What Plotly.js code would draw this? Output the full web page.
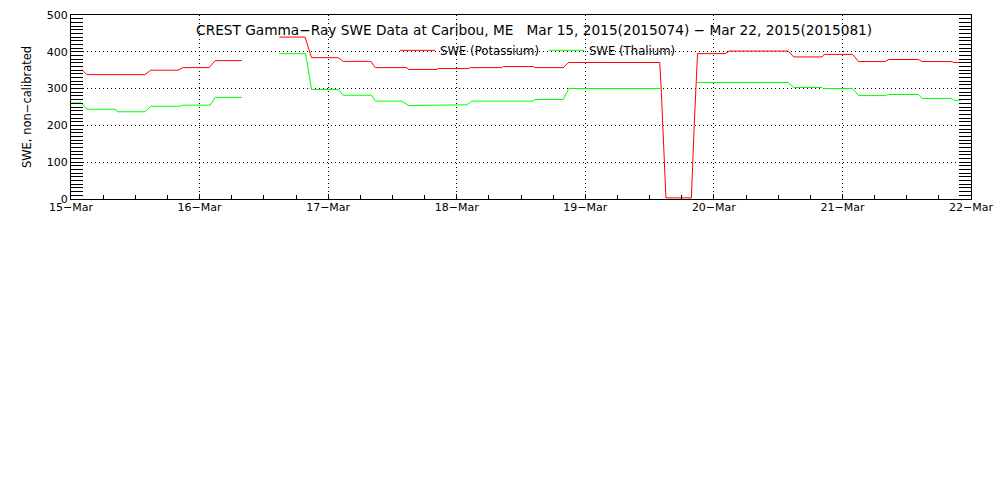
<!DOCTYPE html>
<html>
<head>
<meta charset="utf-8">
<script src="https://cdn.plot.ly/plotly-3.0.1.min.js"></script>
<style>html,body{margin:0;padding:0;background:#fff;}#chart{width:1000px;height:500px;}</style>
</head>
<body>
<div id="chart"></div>
<script>
// Potassium SWE (red) breakpoints
var kTimes = [
  '2015-03-15 02:00','2015-03-15 02:56','2015-03-15 13:48','2015-03-15 14:54','2015-03-15 20:00','2015-03-15 20:54',
  '2015-03-16 01:48','2015-03-16 02:54','2015-03-16 07:54','2015-03-16 11:00',
  '2015-03-16 14:54','2015-03-16 19:42','2015-03-16 20:54','2015-03-17 01:54','2015-03-17 02:48',
  '2015-03-17 07:58','2015-03-17 08:48','2015-03-17 14:42','2015-03-17 15:00','2015-03-17 20:18','2015-03-17 20:30',
  '2015-03-18 02:12','2015-03-18 02:30','2015-03-18 08:24','2015-03-18 08:42','2015-03-18 14:18','2015-03-18 14:36',
  '2015-03-18 19:54','2015-03-18 20:54','2015-03-19 13:54','2015-03-19 14:12','2015-03-19 14:30','2015-03-19 14:48',
  '2015-03-19 15:03','2015-03-19 19:48','2015-03-19 20:01','2015-03-19 20:20','2015-03-19 20:39','2015-03-19 20:57',
  '2015-03-20 02:06','2015-03-20 02:54','2015-03-20 13:54','2015-03-20 14:54','2015-03-20 20:12','2015-03-20 20:36',
  '2015-03-21 01:54','2015-03-21 03:00','2015-03-21 08:00','2015-03-21 08:36','2015-03-21 14:12','2015-03-21 14:51',
  '2015-03-21 20:27','2015-03-21 20:45','2015-03-21 22:08'
];
var kValues = [
  352,338,338,350,350,357,
  357,376,376,null,
  440,440,384,384,374,
  374,357,357,352,352,354.5,
  354.5,357,357,360,360,357,
  357,371,371,290,200,110,
  3,3,100,200,300,395,
  395,402,402,386,386,393,
  393,373.5,373.5,379,379,373.5,
  373.5,371,371
];
// Thalium SWE (green) breakpoints
var tTimes = [
  '2015-03-15 00:00','2015-03-15 02:00','2015-03-15 02:56','2015-03-15 08:12','2015-03-15 08:48','2015-03-15 13:48',
  '2015-03-15 14:54','2015-03-15 20:24','2015-03-15 20:54','2015-03-16 01:58','2015-03-16 02:54','2015-03-16 07:54',
  '2015-03-16 11:00',
  '2015-03-16 14:54','2015-03-16 19:48','2015-03-16 20:54','2015-03-17 01:54','2015-03-17 02:48','2015-03-17 08:09',
  '2015-03-17 08:48','2015-03-17 13:45','2015-03-17 15:00','2015-03-17 20:18','2015-03-17 20:30','2015-03-18 01:54',
  '2015-03-18 02:48','2015-03-18 14:18','2015-03-18 14:36','2015-03-18 19:54','2015-03-18 20:54','2015-03-19 14:00',
  '2015-03-19 17:00',
  '2015-03-19 20:51','2015-03-20 13:54','2015-03-20 14:54','2015-03-20 20:12','2015-03-20 20:24','2015-03-21 01:54',
  '2015-03-21 03:00','2015-03-21 08:00','2015-03-21 08:36','2015-03-21 14:12','2015-03-21 14:51','2015-03-21 20:27',
  '2015-03-21 20:45','2015-03-21 22:08'
];
var tValues = [
  261,261,244,244,237,237,
  252,252,255,255,276,276,
  null,
  395,395,297.5,297.5,282,282,
  266,266,254,254,256,256,
  266,266,270.5,270.5,300,300,
  null,
  316.5,316.5,303,303,300,300,
  281,281,284,284,273,273,
  268.5,268.5
];
var seriesNames = ['SWE (Potassium)', 'SWE (Thalium)'];
var titleText = 'CREST Gamma\u2212Ray SWE Data at Caribou, ME &nbsp; Mar 15, 2015(2015074) \u2212 Mar 22, 2015(2015081)';
var yTitle = 'SWE, non\u2212calibrated';
var xRange = ['2015-03-15 00:00', '2015-03-22 00:00'];
var yRange = [0, 500];

var FONT = 'DejaVu Sans, sans-serif';
var traces = [
  {x: kTimes, y: kValues, name: seriesNames[0], type: 'scatter', mode: 'lines',
   line: {color: '#ff0000', width: 1}, connectgaps: false},
  {x: tTimes, y: tValues, name: seriesNames[1], type: 'scatter', mode: 'lines',
   line: {color: '#00ff00', width: 1}, connectgaps: false}
];
var layout = {
  width: 1000, height: 500,
  paper_bgcolor: '#ffffff', plot_bgcolor: '#ffffff',
  margin: {l: 71, r: 29, t: 15, b: 301, pad: 0},
  font: {family: FONT, size: 11, color: '#000'},
  title: {text: titleText, font: {family: FONT, size: 13.7, color: '#000'},
          xref: 'paper', x: 0.5146, xanchor: 'center', yref: 'container', y: 0.94, yanchor: 'middle'},
  showlegend: true,
  legend: {orientation: 'h', x: 0.360, xanchor: 'left', y: 0.808, yanchor: 'middle',
           bgcolor: 'rgba(0,0,0,0)', borderwidth: 0, font: {family: FONT, size: 11.7, color: '#000'},
           itemwidth: 35, tracegroupgap: 0},
  xaxis: {
    type: 'date', range: xRange, autorange: false,
    showline: true, linecolor: '#000', linewidth: 1, mirror: true,
    ticks: 'inside', ticklen: 5, tickcolor: '#000', dtick: 86400000, tick0: '2015-03-15',
    tickformat: '%d\u2212%b', tickfont: {family: FONT, size: 11, color: '#000'},
    ticklabelstandoff: -2,
    showgrid: true, gridcolor: '#000', gridwidth: 1, griddash: '1px,3px',
    minor: {dtick: 21600000, ticks: 'inside', ticklen: 4, tickcolor: '#000', showgrid: false},
    zeroline: false
  },
  yaxis: {
    range: yRange, autorange: false,
    showline: true, linecolor: '#000', linewidth: 1, mirror: 'allticks',
    ticks: 'inside', ticklen: 12, tickcolor: '#000', dtick: 100, tick0: 0,
    tickfont: {family: FONT, size: 11, color: '#000'},
    showgrid: true, gridcolor: '#000', gridwidth: 1, griddash: '1px,3px',
    minor: {dtick: 10, ticks: 'inside', ticklen: 12, tickcolor: '#000', showgrid: false},
    zeroline: false,
    title: {text: yTitle, font: {family: FONT, size: 11.5, color: '#000'}, standoff: 12}
  }
};
Plotly.newPlot('chart', traces, layout, {displayModeBar: false, staticPlot: true});
</script>
</body>
</html>
